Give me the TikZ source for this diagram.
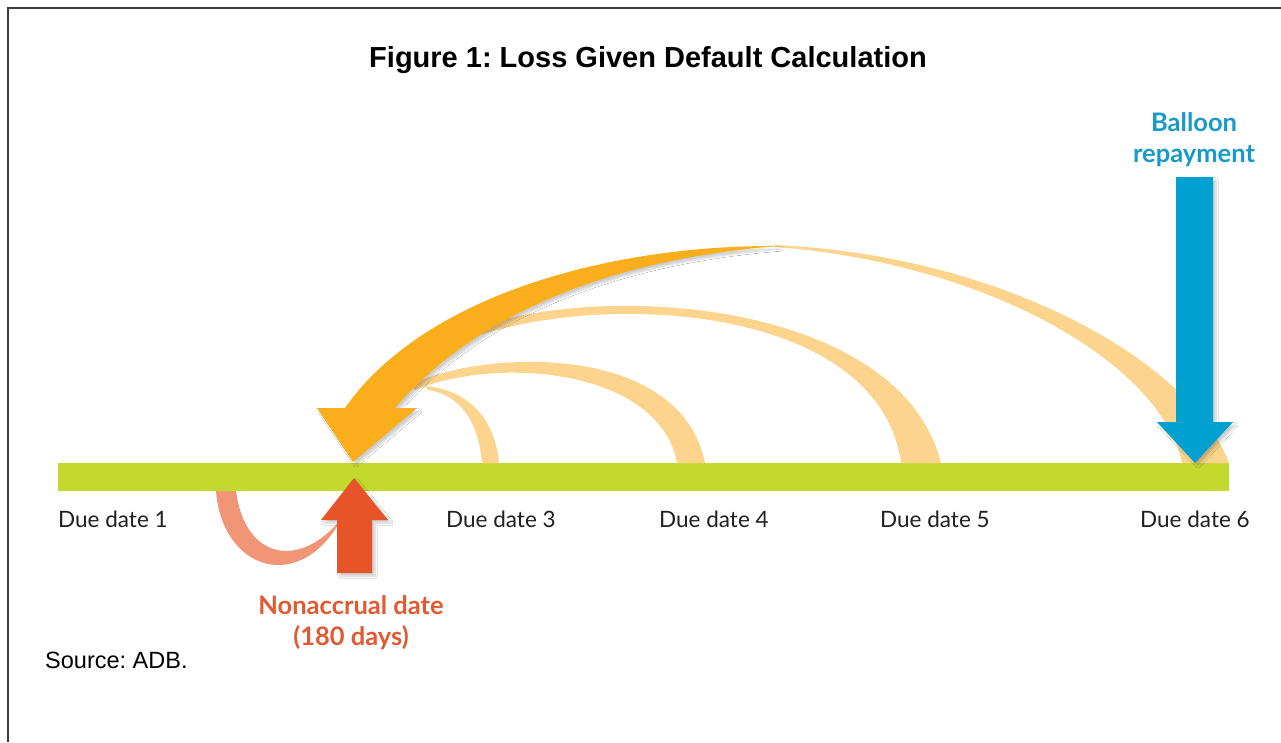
\documentclass[tikz,border=0pt]{standalone}
\usepackage{fontspec}
\setmainfont{Liberation Sans}
\newfontfamily\lab{Lato}
\usetikzlibrary{shadows.blur}
\frenchspacing
\definecolor{bar}{RGB}{196,217,46}
\definecolor{orng}{RGB}{250,174,27}
\definecolor{pale}{RGB}{252,212,142}
\definecolor{salmon}{RGB}{240,150,118}
\definecolor{redarr}{RGB}{232,84,42}
\definecolor{bluearr}{RGB}{0,160,208}
\definecolor{bluetxt}{RGB}{22,155,200}
\definecolor{redtxt}{RGB}{226,90,50}
\definecolor{txt}{RGB}{35,31,32}
\definecolor{frame}{RGB}{60,60,60}
\tikzset{
  datelabel/.style={anchor=base west,inner sep=0pt,text=txt,font=\lab\fontsize{22.5}{26}\selectfont},
  boldlabel/.style={anchor=base,inner sep=0pt,font=\lab\bfseries\fontsize{25.5}{30}\selectfont},
  shad/.style={blur shadow={shadow xshift=3pt,shadow yshift=-3pt,shadow opacity=20,shadow blur steps=8}}
}
\begin{document}
\begin{tikzpicture}[x=1pt,y=-1pt]
\useasboundingbox (0,0) rectangle (1281,742);
\fill[white] (0,0) rectangle (1281,742);
% frame
\draw[frame,line width=1.5pt] (8,742) -- (8,8) -- (1281,8);
% title
\node[anchor=base,inner sep=0pt,font=\bfseries\fontsize{29}{34}\selectfont] (title) at (648,67) {Figure 1: Loss Given Default Calculation};
% timeline bar
\fill[bar] (58,463) rectangle (1229,491);
% salmon arc below
\fill[salmon] (216,491) .. controls (222,570) and (300,596) .. (342,518)
  .. controls (300,570) and (245,560) .. (236,491) -- cycle;
% pale bands
\fill[pale] (775,245) .. controls (1000,255) and (1190,360) .. (1229,463)
  -- (1182,463) .. controls (1160,360) and (980,262) .. (775,247) -- cycle;
\fill[pale] (470,330) .. controls (600,280) and (900,300) .. (941,463)
  -- (901,463) .. controls (880,310) and (620,290) .. (480,335) -- cycle;
\fill[pale] (410,385) .. controls (480,350) and (680,340) .. (705,463)
  -- (677,463) .. controls (660,370) and (500,355) .. (415,390) -- cycle;
\fill[pale] (425,386) .. controls (470,390) and (495,420) .. (499,463)
  -- (482,463) .. controls (478,420) and (460,395) .. (428,390) -- cycle;
% main orange arrow
\fill[orng,shad] (353,462) -- (417,408) -- (395,408)
  .. controls (470,320) and (600,260) .. (778,246)
  .. controls (600,245) and (420,300) .. (345,408)
  -- (317,408) -- cycle;
% blue arrow
\fill[bluearr,shad] (1176,177) -- (1213,177) -- (1213,422) -- (1233,422) -- (1195,463) -- (1157,422) -- (1176,422) -- cycle;
% red arrow
\fill[redarr,shad] (337,573) -- (372,573) -- (372,520) -- (388,520) -- (354,478) -- (321,520) -- (337,520) -- cycle;
% labels
\node[datelabel] (d1) at (58,527) {Due date 1};
\node[datelabel] (d3) at (446,527) {Due date 3};
\node[datelabel] (d4) at (659,527) {Due date 4};
\node[datelabel] (d5) at (880,527) {Due date 5};
\node[datelabel] (d6) at (1140,527) {Due date 6};
\node[boldlabel,text=redtxt] (na1) at (351,614) {Nonaccrual date};
\node[boldlabel,text=redtxt] (na2) at (351,645) {(180 days)};
\node[boldlabel,text=bluetxt] (b1) at (1194,131) {Balloon};
\node[boldlabel,text=bluetxt] (b2) at (1194,162) {repayment};
\node[anchor=base west,inner sep=0pt,font=\fontsize{23.5}{28}\selectfont] (src) at (45,668) {Source: ADB.};
\end{tikzpicture}
\end{document}
